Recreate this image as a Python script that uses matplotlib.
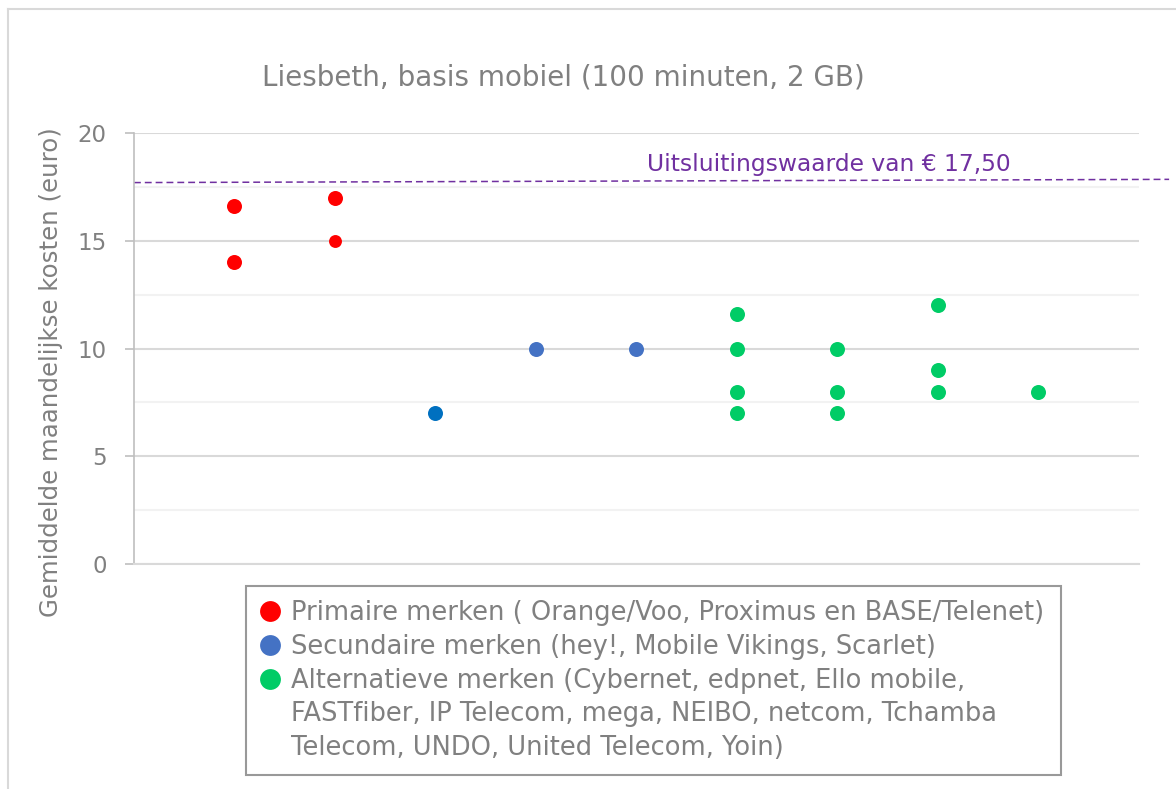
import matplotlib
matplotlib.use('Agg')
import matplotlib.pyplot as plt
from matplotlib.lines import Line2D

# data
red_x = [1, 1, 2, 2]
red_y = [16.6, 14, 17, 15]
blue_x = [3, 4, 5]
blue_y = [7, 10, 10]
green_x = [6, 6, 6, 6, 7, 7, 7, 8, 8, 8, 9]
green_y = [11.6, 10, 8, 7, 10, 8, 7, 12, 9, 8, 8]
threshold = 17.5
y_ticks = [0, 5, 10, 15, 20]

title = 'Liesbeth, basis mobiel (100 minuten, 2 GB)'
ylabel = 'Gemiddelde maandelijkse kosten (euro)'
threshold_label = 'Uitsluitingswaarde van € 17,50'
legend_labels = ['Primaire merken ( Orange/Voo, Proximus en BASE/Telenet)',
                 'Secundaire merken (hey!, Mobile Vikings, Scarlet)',
                 'Alternatieve merken (Cybernet, edpnet, Ello mobile,',
                 'FASTfiber, IP Telecom, mega, NEIBO, netcom, Tchamba',
                 'Telecom, UNDO, United Telecom, Yoin)']

RED = '#FF0000'
BLUE = '#4472C4'
BLUE2 = '#0070C0'
GREEN = '#00CC66'
PURPLE = '#7030A0'
GRAY = '#808080'

plt.rcParams['font.family'] = ['DejaVu Sans']

fig = plt.figure(figsize=(11.76, 7.89), dpi=100)
ax = fig.add_axes([0.1139, 0.2852, 0.8546, 0.5462])

# chart border (runs off right and bottom)
fig.add_artist(Line2D([0.0068, 0.0068], [0, 0.9886], color='#d9d9d9', lw=1.5))
fig.add_artist(Line2D([0.0068, 1], [0.9886, 0.9886], color='#d9d9d9', lw=1.5))

ms = 10.8
sizes = [ms, ms, ms, 9.3]
for x, y, s in zip(red_x, red_y, sizes):
    ax.plot(x, y, 'o', color=RED, ms=s, mec='none', zorder=3)
blue_cols = [BLUE2, BLUE, BLUE]
for x, y, c in zip(blue_x, blue_y, blue_cols):
    ax.plot(x, y, 'o', color=c, ms=ms, mec='none', zorder=3)
ax.plot(green_x, green_y, 'o', color=GREEN, ms=ms, mec='none', ls='none', zorder=3)

# threshold line, slightly sloped as in the original drawing
ax.plot([0.0, 10.3], [threshold + 0.2, threshold + 0.35], ls=(0, (4.5, 2.6)),
        color=PURPLE, lw=1.1, clip_on=False, zorder=2)
ax.text(5.1, 18.25, threshold_label, color=PURPLE, fontsize=16.8,
        ha='left', va='baseline')

ax.set_xlim(0, 10)
ax.set_ylim(0, 20)
ax.set_yticks(y_ticks)
ax.set_yticks([2.5, 7.5, 12.5, 17.5], minor=True)
ax.set_xticks([])
ax.grid(axis='y', which='major', color='#d9d9d9', lw=1.5)
ax.grid(axis='y', which='minor', color='#f2f2f2', lw=1.5)
ax.set_axisbelow(True)
ax.tick_params(axis='y', which='major', length=6.5, width=1.2, color='#bfbfbf',
               labelsize=16.5, labelcolor=GRAY, pad=13)
ax.tick_params(axis='y', which='minor', length=0)
for side in ['top', 'right']:
    ax.spines[side].set_visible(False)
ax.spines['left'].set_color('#bfbfbf')
ax.spines['left'].set_linewidth(1.2)
ax.spines['bottom'].set_color('#d9d9d9')
ax.spines['bottom'].set_linewidth(1.5)

fig.text(0.479, 0.902, title, color=GRAY, fontsize=20, ha='center', va='center')
fig.text(0.043, 0.528, ylabel, color=GRAY, fontsize=17.6, rotation=90,
         ha='center', va='center')

handles = [Line2D([], [], marker='o', ls='none', color=c, ms=15, mec='none')
           for c in [RED, BLUE, GREEN]]
handles += [Line2D([], [], ls='none') for _ in range(2)]
leg = fig.legend(handles, legend_labels, loc='upper left',
                 bbox_to_anchor=(0.209, 0.0, 0.693, 0.257), mode='expand',
                 borderaxespad=0, fontsize=18.5, labelcolor=GRAY, frameon=True,
                 fancybox=False, handlelength=0.75, handletextpad=0.45,
                 labelspacing=0.3, borderpad=0.55)
leg.get_frame().set_edgecolor(GRAY)
leg.get_frame().set_linewidth(1.5)

fig.savefig('out.png', dpi=100)
